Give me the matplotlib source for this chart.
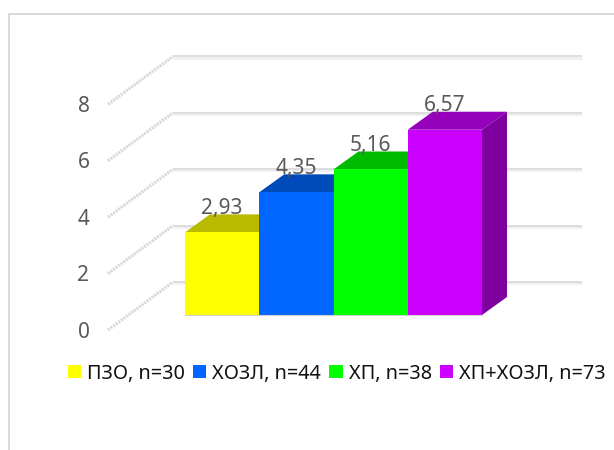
import matplotlib
matplotlib.use("Agg")
import matplotlib.pyplot as plt
from matplotlib.patches import Polygon, Patch
from matplotlib.colors import to_rgb

categories = ["ПЗО, n=30", "ХОЗЛ, n=44", "ХП, n=38", "ХП+ХОЗЛ, n=73"]
values = [2.93, 4.35, 5.16, 6.57]
value_labels = ["2,93", "4,35", "5,16", "6,57"]
colors = ["#FFFF00", "#0066FF", "#00FF00", "#CC00FF"]
yticks = [0, 2, 4, 6, 8]

W, H = 614, 450
PX_PER_BAR = 74.25
PX_PER_UNIT = 28.2
X0_PX, Y0_PX = 185, 315

plt.rcParams["font.family"] = ["Noto Sans", "DejaVu Sans"]
fig = plt.figure(figsize=(W / 100, H / 100), dpi=100, facecolor="white")
ax = fig.add_axes([0, 0, 1, 1])
ax.set_xlim(-X0_PX / PX_PER_BAR, (W - X0_PX) / PX_PER_BAR)
ax.set_ylim((Y0_PX - H) / PX_PER_UNIT, Y0_PX / PX_PER_UNIT)
ax.axis("off")


def dx(px):
    return px / PX_PER_BAR


def dy(px):
    return px / PX_PER_UNIT


# outer chart frame, top and left edges
frame_x = dx(8.5 - X0_PX)
frame_y = dy(Y0_PX - 14)
ax.plot([frame_x, dx(W - X0_PX)], [frame_y, frame_y], color="#D9D9D9", lw=1.4, zorder=1)
ax.plot([frame_x, frame_x], [frame_y, dy(Y0_PX - H)], color="#D9D9D9", lw=1.4, zorder=1)

# back wall gridlines and the slanted side wall lines
wall_left = dx(173 - X0_PX)
wall_right = dx(582 - X0_PX)
wall_lift = dy(Y0_PX - 282)
side_x = dx(108 - X0_PX)
side_lift = dy(Y0_PX - 330)
for t in yticks:
    y = t + wall_lift
    ax.plot([wall_left, wall_right], [y - dy(1.2), y - dy(1.2)], color="#EFEFEF", lw=1.8, zorder=1,
            solid_capstyle="butt")
    ax.plot([wall_left, wall_right], [y, y], color="#D4D4D4", lw=1.1, zorder=1.1,
            solid_capstyle="butt")
    ax.plot([side_x, wall_left], [t + side_lift, y], color="#D8D8D8", lw=2.2, zorder=1,
            linestyle=(0, (0.7, 0.35)))
    ax.text(dx(83.5 - X0_PX), t + side_lift - dy(2), str(t), color="#595959", fontsize=15,
            ha="center", va="center", zorder=5)

# 3D columns, each drawn over its left neighbour
depth_x, depth_y = dx(25), dy(18)
for i, (v, c) in enumerate(zip(values, colors)):
    r, g, b = to_rgb(c)
    top = (r * 0.73, g * 0.73, b * 0.73)
    side = (r * 0.62, g * 0.62, b * 0.62)
    z = 2 + i
    ax.add_patch(Polygon([(i + 1, 0), (i + 1 + depth_x, depth_y), (i + 1 + depth_x, v + depth_y), (i + 1, v)],
                         closed=True, fc=side, ec="none", zorder=z))
    ax.add_patch(Polygon([(i, v), (i + depth_x, v + depth_y), (i + 1 + depth_x, v + depth_y), (i + 1, v)],
                         closed=True, fc=top, ec="none", zorder=z))
    ax.bar(i + 0.5, v, width=1, color=c, edgecolor="none", zorder=z + 0.5)
ax.plot([0, len(values)], [0, 0], color="#D0D0D0", lw=0.8, zorder=7)

for i, (v, label) in enumerate(zip(values, value_labels)):
    ax.text(i + 0.5, v + dy(24), label, color="#595959", fontsize=15,
            ha="center", va="center", zorder=10)

handles = [Patch(facecolor=c, edgecolor="none") for c in colors]
fig.legend(handles, categories, loc="center left", bbox_to_anchor=(68 / W, 1 - 373.5 / H),
           ncol=4, frameon=False, fontsize=14.3, labelcolor="#111111",
           handlelength=0.66, handleheight=0.66, handletextpad=0.3, columnspacing=0.42,
           borderpad=0, borderaxespad=0)

fig.savefig("out.png", dpi=100, facecolor="white")
